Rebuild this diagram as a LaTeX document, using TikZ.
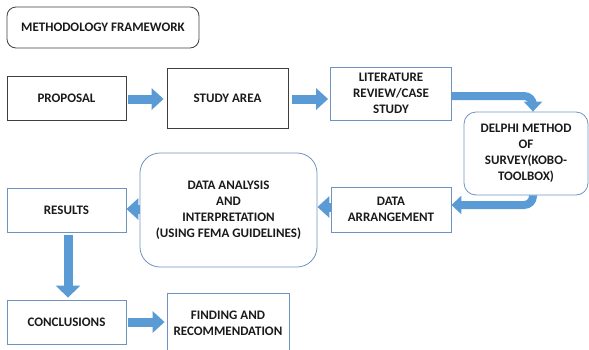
\documentclass[tikz,border=0pt]{standalone}
\usepackage{fontspec}
\setmainfont{Carlito}
\usetikzlibrary{arrows.meta}
\definecolor{boxblue}{HTML}{6F93BF}
\definecolor{boxdark}{HTML}{3F3F3F}
\definecolor{flow}{HTML}{5B9BD5}
\definecolor{inkc}{HTML}{1A1A1A}
\begin{document}
\begin{tikzpicture}[x=1pt,y=-1pt,
  every node/.style={font=\fontsize{13}{16}\selectfont\bfseries, text=inkc, align=center, inner sep=0pt},
  darkbox/.style={draw=boxdark, line width=0.8pt},
  bluebox/.style={draw=boxblue, line width=0.8pt},
  flowline/.style={draw=flow, line width=9pt, -{Triangle[length=12pt,width=21pt]}},
  bentline/.style={draw=flow, line width=8pt, rounded corners=9pt, -{Triangle[length=10pt,width=18pt]}}
]
\useasboundingbox (0,0) rectangle (589,349);
\clip (0,0) rectangle (589,349);

% boxes of the workflow
\node[darkbox, rounded corners=9pt, minimum width=192pt, minimum height=41pt] (title) at (103,27.5) {METHODOLOGY FRAMEWORK};
\node[darkbox, minimum width=119pt, minimum height=44pt] (prop) at (66.5,98) {PROPOSAL};
\node[darkbox, minimum width=121pt, minimum height=60pt] (study) at (227.5,98) {STUDY AREA};
\node[bluebox, minimum width=121pt, minimum height=53pt] (lit) at (391,93.5) {LITERATURE\\REVIEW/CASE\\STUDY};
\node[bluebox, rounded corners=12pt, minimum width=124pt, minimum height=83pt] (delphi) at (526,153.5) {DELPHI METHOD\\OF\\SURVEY(KOBO-\\TOOLBOX)};
\node[bluebox, minimum width=120pt, minimum height=45pt] (arr) at (391,209.5) {DATA\\ARRANGEMENT};
\node[bluebox, rounded corners=20pt, minimum width=177pt, minimum height=114pt] (ana) at (228.5,210) {DATA ANALYSIS\\AND\\INTERPRETATION\\(USING FEMA GUIDELINES)};
\node[bluebox, minimum width=119pt, minimum height=44pt] (res) at (66.5,210) {RESULTS};
\node[bluebox, minimum width=119pt, minimum height=44pt] (conc) at (66.5,322) {CONCLUSIONS};
\node[bluebox, minimum width=122pt, minimum height=60pt] (find) at (228,323) {FINDING AND\\RECOMMENDATION};

% block arrows between the steps
\draw[flowline, shorten <=2pt, shorten >=3pt] ([yshift=-1pt]prop.east) -- ([yshift=-1pt]prop.east -| study.west);
\draw[flowline, shorten <=4pt, shorten >=2pt] ([yshift=-1pt]study.east) -- ([yshift=-1pt]study.east -| lit.west);
\draw[bentline] ([yshift=-2.5pt]lit.east) -| ([xshift=7pt]delphi.north);
\draw[bentline] ([xshift=7pt]delphi.south) |- ([yshift=4.5pt]arr.east);
\draw[flowline] ([yshift=2.5pt]arr.west) -- ([yshift=2.5pt]arr.west -| ana.east);
\draw[flowline] ([yshift=1pt]ana.west) -- ([yshift=1pt]ana.west -| res.east);
\draw[flowline, -{Triangle[length=12pt,width=24pt]}, shorten <=3pt, shorten >=2pt] ([xshift=1.5pt]res.south) -- ([xshift=1.5pt]conc.north);
\draw[flowline, shorten <=2pt, shorten >=2pt] (conc.east) -- (conc.east -| find.west);
\end{tikzpicture}
\end{document}
